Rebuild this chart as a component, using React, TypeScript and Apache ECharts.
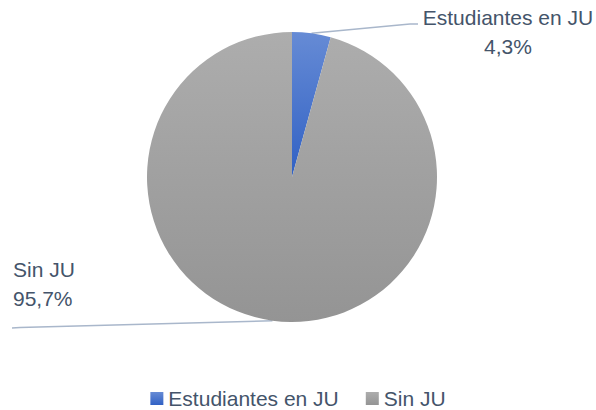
import React, { useEffect, useRef } from "react";
import * as echarts from "echarts";

const categories = ["Estudiantes en JU", "Sin JU"];
const values = [4.3, 95.7];
const labelTexts = ["4,3%", "95,7%"];

const textColor = "#44546A";
const fontFamily = "'Liberation Sans', Arial, sans-serif";

export default function App() {
  const ref = useRef<HTMLDivElement>(null);

  useEffect(() => {
    document.body.style.margin = "0";
    const chart = echarts.init(ref.current!, null, { renderer: "svg" });

    const blue = new echarts.graphic.LinearGradient(0, 0, 0, 1, [
      { offset: 0, color: "#668BD5" },
      { offset: 1, color: "#3161C4" },
    ]);
    const gray = new echarts.graphic.LinearGradient(0, 0, 0, 1, [
      { offset: 0, color: "#ADADAD" },
      { offset: 1, color: "#949494" },
    ]);
    const colors = [blue, gray];

    chart.setOption({
      animation: false,
      backgroundColor: "#ffffff",
      legend: {
        top: 383,
        left: "center",
        icon: "rect",
        itemWidth: 13,
        itemHeight: 13,
        itemGap: 27,
        textStyle: { fontSize: 21, color: textColor, fontFamily },
        data: categories,
      },
      series: [
        {
          type: "pie",
          center: [292, 177],
          radius: 145,
          startAngle: 90,
          clockwise: true,
          data: categories.map((name, i) => ({
            name,
            value: values[i],
            itemStyle: { color: colors[i] },
          })),
          label: {
            show: true,
            formatter: (p: any) => `${p.name}\n${labelTexts[p.dataIndex]}`,
            fontSize: 21,
            lineHeight: 29,
            color: textColor,
            fontFamily,
          },
          labelLine: {
            show: true,
            lineStyle: { color: "#A9B7CB", width: 1.5 },
          },
          labelLayout: (params: any) => {
            const start = params.labelLinePoints
              ? params.labelLinePoints[0]
              : [0, 0];
            if (params.dataIndex === 0) {
              return {
                x: 508,
                y: 32,
                align: "center",
                verticalAlign: "middle",
                labelLinePoints: [start, [410, 24], [418, 24]],
              };
            }
            return {
              x: 13,
              y: 284,
              align: "left",
              verticalAlign: "middle",
              labelLinePoints: [start, [20, 327.6], [12, 328]],
            };
          },
        },
      ],
    });

    return () => chart.dispose();
  }, []);

  return <div ref={ref} style={{ width: 596, height: 410 }} />;
}
